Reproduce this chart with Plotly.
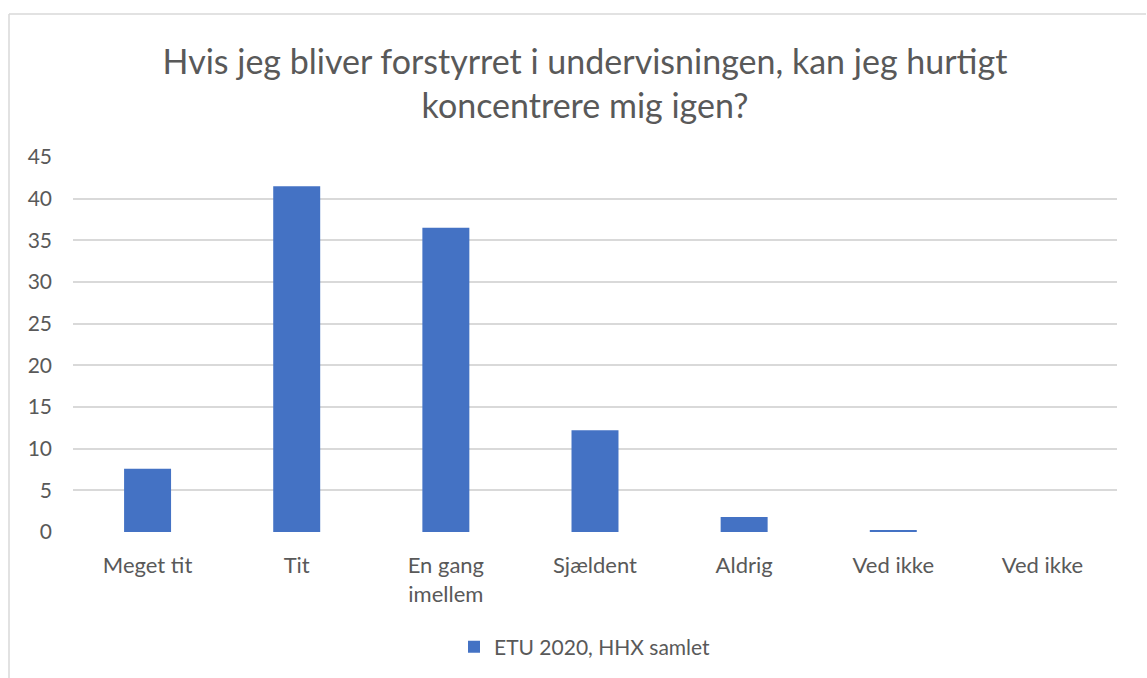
import plotly.graph_objects as go

categories = ["Meget tit", "Tit", "En gang<br>imellem", "Sjældent", "Aldrig", "Ved ikke", "Ved ikke"]
values = [7.6, 41.5, 36.5, 12.2, 1.8, 0.2, 0.0]
series_name = "ETU 2020, HHX samlet"
y_ticks = [0, 5, 10, 15, 20, 25, 30, 35, 40, 45]
title_text = "Hvis jeg bliver forstyrret i undervisningen, kan jeg hurtigt<br>koncentrere mig igen?"

positions = list(range(len(categories)))

FONT = "Lato, 'Open Sans', sans-serif"
TXT = "#595959"

fig = go.Figure()
fig.add_trace(go.Bar(
    x=positions, y=values, name=series_name,
    marker=dict(color="#4472C4", line=dict(width=0)),
    showlegend=True,
))

W, H = 1147, 678
L, R, T, B = 73, 30, 157, 145
pw, ph = W - L - R, H - T - B

def px2x(px):
    return (px - L) / pw

def py2y(py):
    return (H - B - py) / ph

border = dict(color="#d9d9d9", width=1.5)
shapes = [
    dict(type="line", xref="paper", yref="paper", x0=px2x(9), x1=px2x(9), y0=py2y(13.5), y1=py2y(700), line=border),
    dict(type="line", xref="paper", yref="paper", x0=px2x(9), x1=px2x(1146), y0=py2y(13.5), y1=py2y(13.5), line=border),
]

fig.update_layout(
    width=W, height=H,
    margin=dict(l=L, r=R, t=T, b=B),
    paper_bgcolor="white", plot_bgcolor="white",
    font=dict(family=FONT, color=TXT, size=21),
    title=dict(text=title_text, x=585 / W, xanchor="center",
               y=1 - 74 / H, yanchor="middle",
               font=dict(family=FONT, size=34, color=TXT)),
    bargap=0.685,
    shapes=shapes,
    legend=dict(orientation="h", x=px2x(585), xanchor="center", y=py2y(647), yanchor="middle",
                font=dict(size=21, color=TXT)),
    xaxis=dict(tickmode="array", tickvals=positions, ticktext=categories,
               range=[-0.5, len(categories) - 0.5], showgrid=False, zeroline=False,
               showline=False, ticks="", ticklabelstandoff=18, tickfont=dict(size=22)),
    yaxis=dict(range=[0, 45], tickmode="array", tickvals=y_ticks, showgrid=True,
               gridcolor="#d9d9d9", gridwidth=1.5, zeroline=False, showline=False,
               ticks="", ticklabelstandoff=20),
)

fig.write_html("out.html", config={"displayModeBar": False},
               post_script="document.body.style.margin='0';document.body.style.overflow='hidden';")
